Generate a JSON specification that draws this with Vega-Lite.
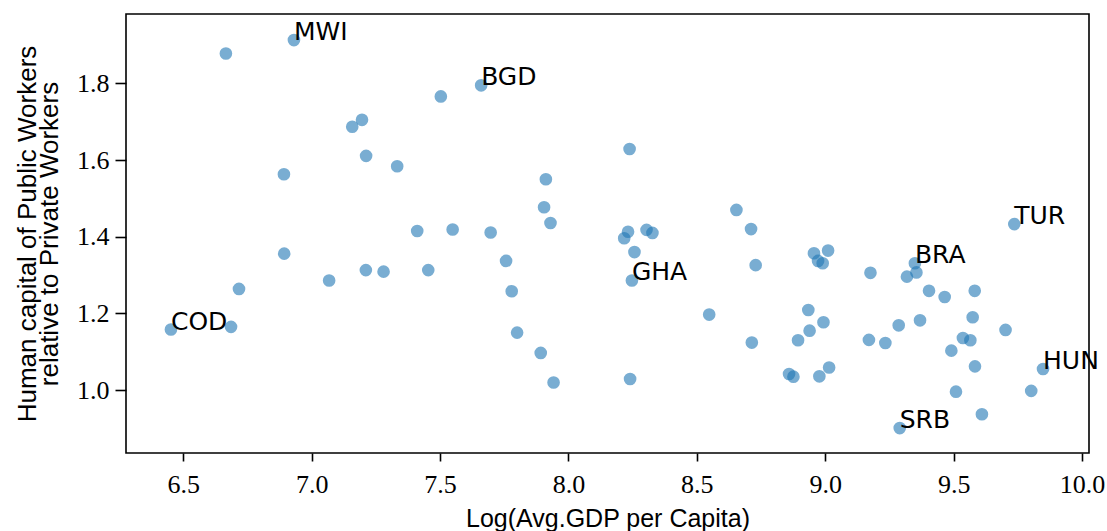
{
  "$schema": "https://vega.github.io/schema/vega-lite/v6.json",
  "width": 963,
  "height": 439,
  "autosize": {"type": "none"},
  "padding": {"left": 126, "top": 14, "right": 18, "bottom": 78},
  "background": "white",
  "config": {
    "view": {"stroke": "black", "strokeWidth": 1.6},
    "axis": {
      "grid": false,
      "domain": false,
      "tickColor": "black",
      "tickWidth": 1.6,
      "labelColor": "black",
      "labelFont": "Liberation Serif",
      "labelFontSize": 26,
      "titleColor": "black",
      "titleFont": "Liberation Sans",
      "titleFontSize": 25,
      "titleFontWeight": "normal"
    }
  },
  "data": {
    "values": [
      {"gdp": 6.666, "hc": 1.878, "label": ""},
      {"gdp": 6.931, "hc": 1.913, "label": "MWI"},
      {"gdp": 7.503, "hc": 1.766, "label": ""},
      {"gdp": 7.660, "hc": 1.795, "label": "BGD"},
      {"gdp": 7.196, "hc": 1.705, "label": ""},
      {"gdp": 7.158, "hc": 1.687, "label": ""},
      {"gdp": 7.212, "hc": 1.611, "label": ""},
      {"gdp": 7.333, "hc": 1.584, "label": ""},
      {"gdp": 6.892, "hc": 1.563, "label": ""},
      {"gdp": 7.411, "hc": 1.415, "label": ""},
      {"gdp": 7.549, "hc": 1.419, "label": ""},
      {"gdp": 7.697, "hc": 1.411, "label": ""},
      {"gdp": 8.238, "hc": 1.629, "label": ""},
      {"gdp": 7.912, "hc": 1.550, "label": ""},
      {"gdp": 7.905, "hc": 1.477, "label": ""},
      {"gdp": 7.930, "hc": 1.436, "label": ""},
      {"gdp": 8.232, "hc": 1.413, "label": ""},
      {"gdp": 8.217, "hc": 1.396, "label": ""},
      {"gdp": 8.304, "hc": 1.418, "label": ""},
      {"gdp": 8.327, "hc": 1.410, "label": ""},
      {"gdp": 8.654, "hc": 1.470, "label": ""},
      {"gdp": 8.711, "hc": 1.420, "label": ""},
      {"gdp": 9.736, "hc": 1.433, "label": "TUR"},
      {"gdp": 6.893, "hc": 1.356, "label": ""},
      {"gdp": 6.717, "hc": 1.264, "label": ""},
      {"gdp": 6.452, "hc": 1.158, "label": "COD"},
      {"gdp": 6.686, "hc": 1.165, "label": ""},
      {"gdp": 7.068, "hc": 1.286, "label": ""},
      {"gdp": 7.211, "hc": 1.313, "label": ""},
      {"gdp": 7.280, "hc": 1.309, "label": ""},
      {"gdp": 7.454, "hc": 1.313, "label": ""},
      {"gdp": 7.757, "hc": 1.337, "label": ""},
      {"gdp": 7.779, "hc": 1.258, "label": ""},
      {"gdp": 7.800, "hc": 1.150, "label": ""},
      {"gdp": 7.892, "hc": 1.097, "label": ""},
      {"gdp": 7.942, "hc": 1.020, "label": ""},
      {"gdp": 8.240, "hc": 1.029, "label": ""},
      {"gdp": 8.257, "hc": 1.360, "label": ""},
      {"gdp": 8.247, "hc": 1.286, "label": "GHA"},
      {"gdp": 8.548, "hc": 1.197, "label": ""},
      {"gdp": 8.729, "hc": 1.326, "label": ""},
      {"gdp": 8.714, "hc": 1.124, "label": ""},
      {"gdp": 8.956, "hc": 1.357, "label": ""},
      {"gdp": 9.011, "hc": 1.364, "label": ""},
      {"gdp": 8.972, "hc": 1.337, "label": ""},
      {"gdp": 8.990, "hc": 1.331, "label": ""},
      {"gdp": 8.934, "hc": 1.209, "label": ""},
      {"gdp": 8.993, "hc": 1.177, "label": ""},
      {"gdp": 8.939, "hc": 1.155, "label": ""},
      {"gdp": 8.894, "hc": 1.130, "label": ""},
      {"gdp": 8.859, "hc": 1.042, "label": ""},
      {"gdp": 8.876, "hc": 1.035, "label": ""},
      {"gdp": 8.977, "hc": 1.036, "label": ""},
      {"gdp": 9.015, "hc": 1.059, "label": ""},
      {"gdp": 9.176, "hc": 1.306, "label": ""},
      {"gdp": 9.349, "hc": 1.331, "label": "BRA"},
      {"gdp": 9.355, "hc": 1.307, "label": ""},
      {"gdp": 9.318, "hc": 1.296, "label": ""},
      {"gdp": 9.404, "hc": 1.259, "label": ""},
      {"gdp": 9.465, "hc": 1.243, "label": ""},
      {"gdp": 9.582, "hc": 1.259, "label": ""},
      {"gdp": 9.574, "hc": 1.190, "label": ""},
      {"gdp": 9.369, "hc": 1.182, "label": ""},
      {"gdp": 9.286, "hc": 1.169, "label": ""},
      {"gdp": 9.702, "hc": 1.157, "label": ""},
      {"gdp": 9.170, "hc": 1.131, "label": ""},
      {"gdp": 9.234, "hc": 1.123, "label": ""},
      {"gdp": 9.536, "hc": 1.136, "label": ""},
      {"gdp": 9.565, "hc": 1.130, "label": ""},
      {"gdp": 9.491, "hc": 1.103, "label": ""},
      {"gdp": 9.583, "hc": 1.062, "label": ""},
      {"gdp": 9.848, "hc": 1.055, "label": "HUN"},
      {"gdp": 9.509, "hc": 0.996, "label": ""},
      {"gdp": 9.802, "hc": 0.998, "label": ""},
      {"gdp": 9.610, "hc": 0.937, "label": ""},
      {"gdp": 9.290, "hc": 0.901, "label": "SRB"}
    ]
  },
  "encoding": {
    "x": {
      "field": "gdp",
      "type": "quantitative",
      "scale": {"domain": [6.277, 10.027], "nice": false, "zero": false},
      "axis": {
        "title": "Log(Avg.GDP per Capita)",
        "values": [6.5, 7.0, 7.5, 8.0, 8.5, 9.0, 9.5, 10.0],
        "format": ".1f",
        "tickSize": 8,
        "labelPadding": 10,
        "titlePadding": 9,
        "labelFlush": false
      }
    },
    "y": {
      "field": "hc",
      "type": "quantitative",
      "scale": {"domain": [0.836, 1.981], "nice": false, "zero": false},
      "axis": {
        "title": ["Human capital of Public Workers", "relative to Private Workers"],
        "titleFontSize": 26,
        "titleLineHeight": 22,
        "values": [1.0, 1.2, 1.4, 1.6, 1.8],
        "format": ".1f",
        "tickSize": 11,
        "labelPadding": 6,
        "titlePadding": 14,
        "labelFlush": false
      }
    }
  },
  "layer": [
    {
      "mark": {"type": "point", "filled": true, "shape": "circle", "size": 160, "color": "#1f77b4", "opacity": 0.6, "strokeWidth": 0}
    },
    {
      "transform": [{"filter": "datum.label != ''"}],
      "mark": {"type": "text", "align": "left", "baseline": "alphabetic", "font": "DejaVu Sans", "fontSize": 25, "color": "black"},
      "encoding": {"text": {"field": "label"}}
    }
  ]
}
